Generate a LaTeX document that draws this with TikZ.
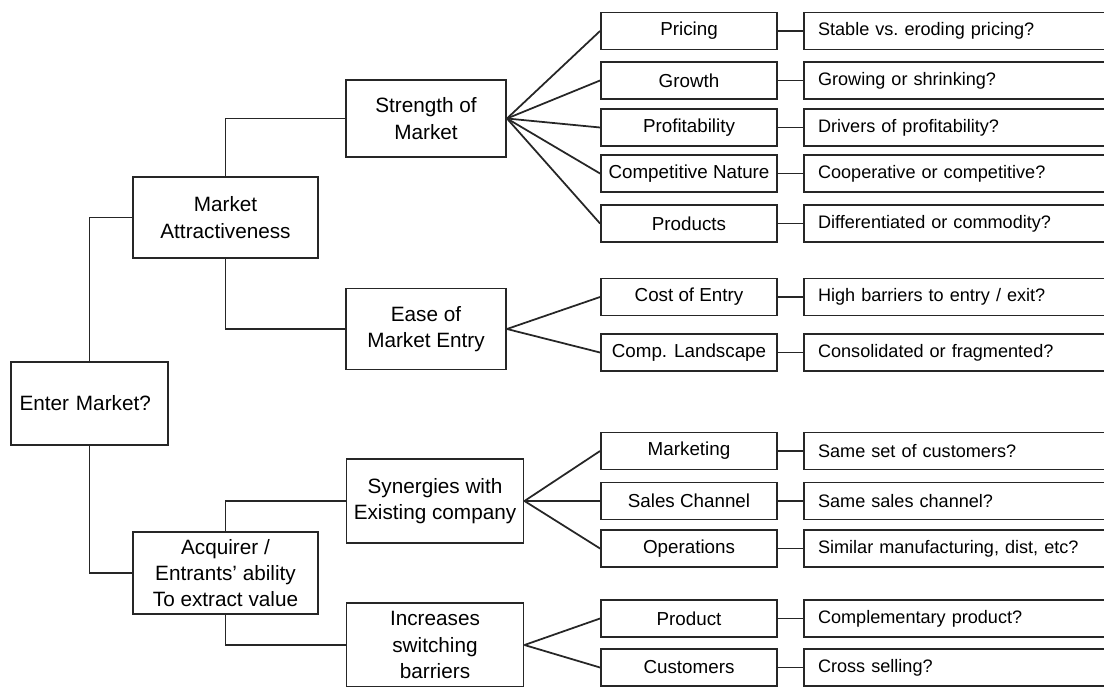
\documentclass[tikz,border=0pt]{standalone}
\usepackage{fontspec}
\setmainfont{Liberation Sans}
\usetikzlibrary{arrows.meta}
\tikzset{
  box/.style={
    draw=black!85, line width=1.1pt, fill=white, align=center, inner sep=2pt,
  },
  box big/.style={
    box, font=\fontsize{11.8}{15}\selectfont,
    minimum width=#1,
  },
  box mid/.style={
    box, minimum width=3.52cm, minimum height=0.74cm,
    font=\fontsize{10.7}{12}\selectfont,
  },
  box ask/.style={
    box, minimum height=0.74cm, text width=5.56cm, align=left,
    inner xsep=0.28cm, font=\fontsize{10.3}{12}\selectfont,
  }
}

\begin{document}
\begin{tikzpicture}[x=0.02cm,y=-0.02cm]
                \useasboundingbox (0,0) rectangle (1104,686);
                \begin{scope}[every node/.style={box big=3.2cm}]
                    \node[minimum width=3.14cm, minimum height=1.66cm, text width=2.8cm, align=left] (EM) at (89.5,403.5) {Enter Market?};
                    \node[minimum width=3.7cm, minimum height=1.62cm] (MA) at (225.5,217.5) {Market\\Attractiveness};
                    \node[minimum width=3.7cm, minimum height=1.64cm] (AE) at (225.5,573) {Acquirer /\\Entrants' ability\\To extract value};
                    \node[minimum height=1.54cm] (SM) at (426,118.5) {Strength of\\Market};
                    \node[minimum height=1.62cm] (EE) at (426,329) {Ease of\\Market Entry};
                    \node[minimum width=3.54cm, minimum height=1.68cm] (SE) at (435,501) {Synergies with\\Existing company};
                    \node[minimum width=3.54cm, minimum height=1.68cm] (IB) at (435,645) {Increases\\switching\\barriers};
                \end{scope}
                \begin{scope}[every node/.style={box mid}]
                    \node (Pri) at (689,31) {Pricing};
                    \node (Gro) at (689,80.5) {Growth};
                    \node (Pro) at (689,127.5) {Profitability};
                    \node (Com) at (689,173.5) {Competitive Nature};
                    \node (Prd) at (689,223.5) {Products};
                    \node (Cos) at (689,297) {Cost of Entry};
                    \node (Lan) at (689,352.5) {Comp. Landscape};
                    \node (Mkt) at (689,451) {Marketing};
                    \node (Sal) at (689,501) {Sales Channel};
                    \node (Ope) at (689,548.5) {Operations};
                    \node (Pdt) at (689,618.5) {Product};
                    \node (Cus) at (689,667.5) {Customers};
                \end{scope}
                \begin{scope}[every node/.style={box ask}]
                    \node (qPri) at (957,31) {Stable vs.\ eroding pricing?};
                    \node (qGro) at (957,80.5) {Growing or shrinking?};
                    \node (qPro) at (957,127.5) {Drivers of profitability?};
                    \node (qCom) at (957,173.5) {Cooperative or competitive?};
                    \node (qPrd) at (957,223.5) {Differentiated or commodity?};
                    \node (qCos) at (957,297) {High barriers to entry / exit?};
                    \node (qLan) at (957,352.5) {Consolidated or fragmented?};
                    \node (qMkt) at (957,451) {Same set of customers?};
                    \node (qSal) at (957,501) {Same sales channel?};
                    \node (qOpe) at (957,548.5) {Similar manufacturing, dist, etc?};
                    \node (qPdt) at (957,618.5) {Complementary product?};
                    \node (qCus) at (957,667.5) {Cross selling?};
                \end{scope}
                \begin{scope}[every edge/.style={draw=black!85,line width=1pt}]
                    % elbows on the left
                    \draw [line width=1pt,draw=black!85] (EM.north) |- (MA.west);
                    \draw [line width=1pt,draw=black!85] (EM.south) |- (AE.west);
                    \draw [line width=1pt,draw=black!85] (MA.north) |- (SM.west);
                    \draw [line width=1pt,draw=black!85] (MA.south) |- (EE.west);
                    \draw [line width=1pt,draw=black!85] (AE.north) |- (SE.west);
                    \draw [line width=1pt,draw=black!85] (AE.south) |- (IB.west);
                    % fans
                    \path (SM.east) edge (Pri.west) edge (Gro.west) edge (Pro.west) edge (Com.west) edge (Prd.west);
                    \path (EE.east) edge (Cos.west) edge (Lan.west);
                    \path (SE.east) edge (Mkt.west) edge (Sal.west) edge (Ope.west);
                    \path (IB.east) edge (Pdt.west) edge (Cus.west);
                    % questions
                    \path (Pri) edge (qPri);
                    \path (Gro) edge (qGro);
                    \path (Pro) edge (qPro);
                    \path (Com) edge (qCom);
                    \path (Prd) edge (qPrd);
                    \path (Cos) edge (qCos);
                    \path (Lan) edge (qLan);
                    \path (Mkt) edge (qMkt);
                    \path (Sal) edge (qSal);
                    \path (Ope) edge (qOpe);
                    \path (Pdt) edge (qPdt);
                    \path (Cus) edge (qCus);
                \end{scope}
            \end{tikzpicture}
\end{document}
